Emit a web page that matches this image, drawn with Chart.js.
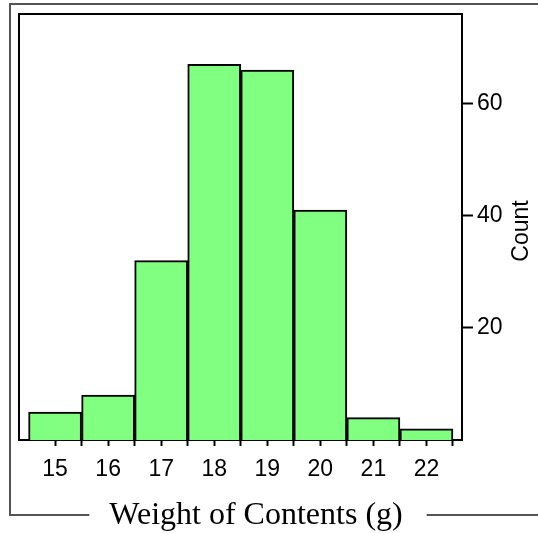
<!DOCTYPE html>
<html>
<head>
<meta charset="utf-8">
<script src="https://cdn.jsdelivr.net/npm/chart.js@4/dist/chart.umd.min.js"></script>
<style>
body{margin:0;background:#fff;}
canvas{display:block;}
</style>
</head>
<body>
<canvas id="histChart" width="538" height="533"></canvas>
<script>
// bin centres and counts
const binCenters=[15,16,17,18,19,20,21,22];
const counts=[5,8,32,67,66,41,4,2];
// ticks
const xLabelTicks=[15,16,17,18,19,20,21,22];
const xEdgeTicks=[15.5,16.5,17.5,18.5,19.5,20.5,21.5,22.5];
const yTicks=[20,40,60];
const xTitle='Weight of Contents (g)';
const yTitle='Count';

const tickFont={family:'"Liberation Sans", Arial, sans-serif',size:23};

// outer frame, plot box and the two titles
const framePlugin={
    id:'frame',
    beforeDatasetsDraw(chart){
        const ctx=chart.ctx,a=chart.chartArea;
        ctx.save();
        ctx.strokeStyle='#000';
        ctx.lineWidth=2;
        ctx.strokeRect(a.left,a.top,a.right-a.left,a.bottom-a.top);
        ctx.restore();
    },
    afterDraw(chart){
        const ctx=chart.ctx;
        ctx.save();
        // x title
        ctx.font='32px "Liberation Serif", "Times New Roman", serif';
        ctx.fillStyle='#000';
        ctx.textAlign='center';
        ctx.textBaseline='alphabetic';
        const tx=256,ty=524;
        ctx.fillText(xTitle,tx,ty);
        const w=ctx.measureText(xTitle).width;
        // outer frame lines
        ctx.strokeStyle='#555';
        ctx.lineWidth=2;
        ctx.beginPath();
        ctx.moveTo(538,4);
        ctx.lineTo(10,4);
        ctx.lineTo(10,515);
        ctx.lineTo(tx-w/2-20,515);
        ctx.moveTo(tx+w/2+24,515);
        ctx.lineTo(538,515);
        ctx.stroke();
        // y title, reading bottom to top
        ctx.font='23px "Liberation Sans", Arial, sans-serif';
        ctx.translate(522,231);
        ctx.rotate(-Math.PI/2);
        ctx.textBaseline='middle';
        ctx.fillText(yTitle,0,0);
        ctx.restore();
    }
};

function noPad(s){s.paddingTop=0;s.paddingBottom=0;s.paddingLeft=0;s.paddingRight=0;}

new Chart(document.getElementById('histChart'),{
    type:'bar',
    data:{
        datasets:[{
            data:binCenters.map((x,i)=>({x:x,y:counts[i]})),
            backgroundColor:'#80ff80',
            borderColor:'#000',
            borderWidth:2,
            barPercentage:1,
            categoryPercentage:1,
            xAxisID:'x',
            yAxisID:'y'
        }]
    },
    options:{
        responsive:false,
        animation:false,
        layout:{padding:{left:19,top:14,right:0,bottom:0}},
        plugins:{legend:{display:false},tooltip:{enabled:false}},
        scales:{
            x:{
                type:'linear',
                position:'bottom',
                weight:1,
                min:14.32,max:22.67,
                offset:false,
                border:{display:false},
                grid:{offset:false,drawOnChartArea:false,drawTicks:true,tickLength:6,tickColor:'#000',tickWidth:2},
                ticks:{font:tickFont,color:'#000',padding:10,maxRotation:0,autoSkip:false},
                afterBuildTicks:s=>{s.ticks=xLabelTicks.map(v=>({value:v}));},
                afterFit:s=>{s.height=93;noPad(s);}
            },
            x2:{
                type:'linear',
                position:'bottom',
                weight:0,
                min:14.32,max:22.67,
                offset:false,
                border:{display:false},
                grid:{offset:false,drawOnChartArea:false,drawTicks:true,tickLength:6,tickColor:'#000',tickWidth:2},
                ticks:{display:false},
                afterBuildTicks:s=>{s.ticks=xEdgeTicks.map(v=>({value:v}));},
                afterFit:s=>{s.height=0;noPad(s);}
            },
            y:{
                type:'linear',
                position:'right',
                min:0,max:76,
                border:{display:false},
                grid:{offset:false,drawOnChartArea:false,drawTicks:true,tickLength:11,tickColor:'#000',tickWidth:2},
                ticks:{font:tickFont,color:'#000',padding:4},
                afterBuildTicks:s=>{s.ticks=yTicks.map(v=>({value:v}));},
                afterFit:s=>{s.width=76;noPad(s);}
            }
        }
    },
    plugins:[framePlugin]
});
</script>
</body>
</html>
